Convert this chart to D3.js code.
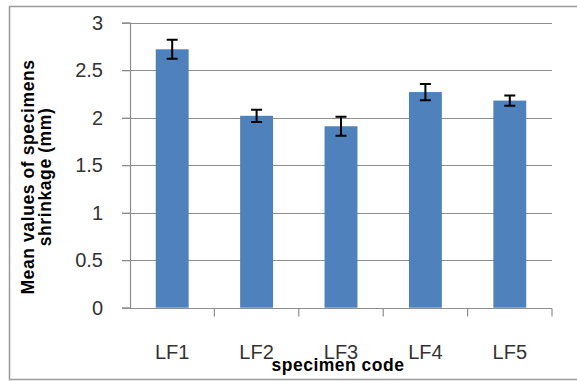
<!DOCTYPE html>
<html><head><meta charset="utf-8">
<script src="https://cdn.jsdelivr.net/npm/d3@7"></script>
<style>body{margin:0;background:#fff}svg{display:block}</style>
</head><body>
<script>
const categories = ["LF1","LF2","LF3","LF4","LF5"];
const values = [2.72, 2.02, 1.91, 2.27, 2.18];
const errors = [0.10, 0.065, 0.10, 0.085, 0.053];
const yTicks = [0, 0.5, 1, 1.5, 2, 2.5, 3];
const yTitle = ["Mean values of specimens", "shrinkage (mm)"];
const xTitle = "specimen code";

const W = 577, H = 381;
const m = {left:130, right:25, top:22.7, bottom:73.3};
const svg = d3.select("body").append("svg").attr("width", W).attr("height", H);

// outer border
svg.append("path").attr("d", `M577,6.5H9.5V379.5H577`).attr("fill","none").attr("stroke","#9a9a9a").attr("stroke-width",1.5);

const x = d3.scaleBand().domain(categories).range([m.left, W - m.right]).paddingInner(0.61).paddingOuter(0.305);
const y = d3.scaleLinear().domain([0, 3]).range([H - m.bottom, m.top]);

// gridlines
svg.append("g").selectAll("line").data(yTicks.filter(d => d > 0)).join("line")
  .attr("x1", m.left - 8).attr("x2", W - m.right)
  .attr("y1", d => Math.round(y(d)) + 0.5).attr("y2", d => Math.round(y(d)) + 0.5)
  .attr("stroke", "#8e8e8e").attr("stroke-width", 1.2);

// y axis
const ya = svg.append("g").attr("transform", `translate(${m.left},0)`)
  .call(d3.axisLeft(y).tickValues(yTicks).tickSize(8).tickPadding(19).tickFormat(d3.format("")));
ya.select(".domain").attr("stroke", "#8e8e8e").attr("stroke-width", 1.2);
ya.selectAll(".tick line").attr("stroke", "#8e8e8e").attr("stroke-width", 1.2);
ya.selectAll("text").attr("font-family", "Liberation Sans, Arial, sans-serif").attr("font-size", 20).attr("fill", "#333");

// x axis
const y0 = Math.round(y(0)) + 0.5;
const xa = svg.append("g").attr("transform", `translate(0,${y0})`);
xa.append("line").attr("x1", m.left - 8).attr("x2", W - m.right).attr("stroke", "#8e8e8e").attr("stroke-width", 1.2);
const step = x.step();
const bounds = categories.map((c, i) => m.left + (i + 1) * step);
xa.selectAll(".tk").data(bounds).join("line").attr("class","tk")
  .attr("x1", d => d).attr("x2", d => d).attr("y1", 0).attr("y2", 8)
  .attr("stroke", "#8e8e8e").attr("stroke-width", 1.2);
xa.selectAll(".lbl").data(categories).join("text").attr("class","lbl")
  .attr("x", d => x(d) + x.bandwidth() / 2).attr("y", 50)
  .attr("text-anchor", "middle").attr("font-family", "Liberation Sans, Arial, sans-serif")
  .attr("font-size", 20).attr("fill", "#333").text(d => d);

// bars
svg.append("g").selectAll("rect").data(categories).join("rect")
  .attr("x", d => x(d)).attr("width", x.bandwidth())
  .attr("y", (d, i) => y(values[i])).attr("height", (d, i) => y(0) - y(values[i]))
  .attr("fill", "#4f81bd");

// error bars
const eg = svg.append("g").attr("stroke", "#000").attr("stroke-width", 2).attr("fill", "none");
categories.forEach((c, i) => {
  const cx = x(c) + x.bandwidth() / 2;
  const t = y(values[i] + errors[i]), b = y(values[i] - errors[i]);
  eg.append("path").attr("d", `M${cx},${t}V${b}M${cx-5.5},${t}H${cx+5.5}M${cx-5.5},${b}H${cx+5.5}`);
});

// y title
const yt = svg.append("text").attr("transform", `translate(34,177) rotate(-90)`)
  .attr("text-anchor", "middle").attr("font-family", "Liberation Sans, Arial, sans-serif")
  .attr("font-size", 17.5).attr("letter-spacing", 0.6).attr("font-weight", "bold").attr("fill", "#000");
yt.selectAll("tspan").data(yTitle).join("tspan").attr("x", 0).attr("dy", (d, i) => i ? 17 : 0).text(d => d);

// x title
svg.append("text").attr("x", 338).attr("y", 371).attr("text-anchor", "middle")
  .attr("font-family", "Liberation Sans, Arial, sans-serif").attr("font-size", 17.5).attr("letter-spacing", 0.5)
  .attr("font-weight", "bold").attr("fill", "#000").text(xTitle);
</script>
</body></html>
